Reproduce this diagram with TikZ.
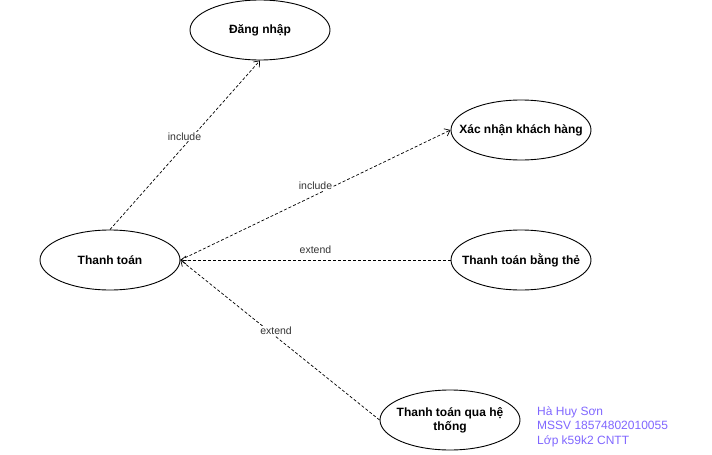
\documentclass[tikz,border=0pt]{standalone}
\usepackage{fontspec}
\setmainfont{Liberation Sans}
\usepackage{xcolor}
\usetikzlibrary{shapes.geometric}
\usetikzlibrary{arrows.meta}
\tikzset{>={Straight Barb[length=5pt,width=8pt]}}
\definecolor{tenxanh}{RGB}{127,102,255}
\definecolor{nhan}{RGB}{51,51,51}

\begin{document}
\begin{tikzpicture}[x=1pt, y=-1pt,
	usecase/.style={ellipse, draw=black, line width=0.9pt, fill=white,
		minimum width=140pt, minimum height=60pt, inner sep=0pt,
		label={[font=\fontsize{12}{14}\selectfont\bfseries, align=center]center:#1}},
	quanhe/.style={->, densely dashed, line width=0.7pt, draw=black},
	nhanquanhe/.style={fill=white, inner sep=1pt, text=nhan,
		font=\fontsize{10.5}{12}\selectfont}]

	\useasboundingbox (0,0) rectangle (712,455);

	% Use case
	\node[usecase={Thanh toán}] (thanhtoan) at (110,260) {};
	\node[usecase={Đăng nhập}] (dangnhap) at (260,30) {};
	\node[usecase={Xác nhận khách hàng}] (xacnhan) at (521,130) {};
	\node[usecase={Thanh toán bằng thẻ}] (bangthe) at (521,260) {};
	\node[usecase={Thanh toán qua hệ\\thống}] (hethong) at (450,420) {};

	%% Quan he
	\draw[quanhe] (thanhtoan.north) -- (dangnhap.south)
	node[nhanquanhe, pos=0.55, xshift=-8pt] {include};
	\draw[quanhe] (thanhtoan.east) -- (xacnhan.west)
	node[nhanquanhe, midway, yshift=9pt] {include};
	\draw[quanhe] (bangthe.west) -- (thanhtoan.east)
	node[nhanquanhe, midway, yshift=10pt] {extend};
	\draw[quanhe] (hethong.west) -- (thanhtoan.east)
	node[nhanquanhe, pos=0.52, yshift=6pt] {extend};

	% Ten sinh vien
	\node[anchor=north west, align=left, text=tenxanh, inner sep=0pt,
	font=\fontsize{12}{14.5}\selectfont] (tensv) at (537,406)
	{Hà Huy Sơn\\MSSV 18574802010055\\Lớp k59k2 CNTT};

\end{tikzpicture}
\end{document}
